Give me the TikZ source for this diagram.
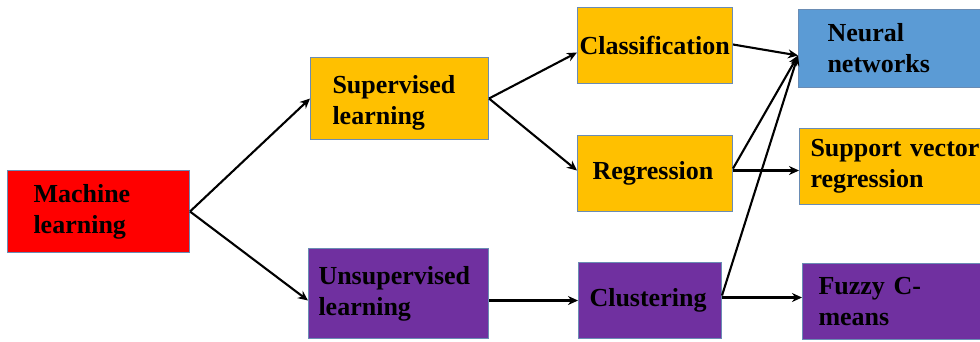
\documentclass[tikz,border=0pt]{standalone}
\usepackage{fontspec}
\setmainfont{Liberation Serif}
\usetikzlibrary{arrows.meta}
\definecolor{MLred}{HTML}{FF0000}
\definecolor{Sup}{HTML}{FFC000}
\definecolor{Uns}{HTML}{7030A0}
\definecolor{NNblue}{HTML}{5B9BD5}
\definecolor{Edge}{HTML}{6A8CB4}
\hyphenpenalty=10000
\begin{document}
\begin{tikzpicture}[x=1pt,y=-1pt,
  box/.style={draw=Edge,line width=1pt,anchor=north west,align=left,inner ysep=0pt,
    font=\fontsize{26}{31}\selectfont\bfseries},
  arr/.style={-{Stealth[length=10pt,width=9pt]},line width=2.1pt}]
  \useasboundingbox (0,0) rectangle (980,341);
  \node[box,fill=MLred,text width=130pt,inner xsep=26pt,minimum height=82pt] (ml) at (7,170) {Machine\\learning};
  \node[box,fill=Sup,text width=134pt,inner xsep=22pt,minimum height=82pt,text height=26pt] (sup) at (310,57) {Supervised\\learning};
  \node[box,fill=Uns,text width=160pt,inner xsep=10pt,minimum height=90pt] (uns) at (308,248) {Unsupervised\\learning};
  \node[box,fill=Sup,text width=151pt,inner xsep=2pt,minimum height=76pt] (cls) at (577,7) {Classification};
  \node[box,fill=Sup,text width=125pt,inner xsep=15pt,minimum height=76pt] (reg) at (577,135) {Regression};
  \node[box,fill=Uns,text width=121pt,inner xsep=11pt,minimum height=76pt] (clu) at (578,262) {Clustering};
  \node[box,fill=NNblue,text width=142pt,inner xsep=29pt,minimum height=78pt] (nn) at (798,9) {Neural\\networks};
  \node[box,fill=Sup,text width=178pt,inner xsep=11pt,minimum height=76pt] (svr) at (799,128) {Support vector\\regression};
  \node[box,fill=Uns,text width=168pt,inner xsep=16pt,minimum height=76pt] (fcm) at (802,263) {Fuzzy C-\\means};
  \coordinate (nnin) at ([yshift=-7pt]nn.west);
  \draw[arr] (ml.east) -- (sup.west);
  \draw[arr] (ml.east) -- ([yshift=-7pt]uns.west);
  \draw[arr] (sup.east) -- ([yshift=-7pt]cls.west);
  \draw[arr] (sup.east) -- ([yshift=3pt]reg.west);
  \draw[arr] ([yshift=1pt]cls.east) -- (nnin);
  \draw[arr] ([yshift=5pt]reg.east) -- (nnin);
  \draw[arr] ([yshift=3pt]reg.east) -- ([yshift=-4pt]svr.west);
  \draw[arr] ([yshift=5pt]clu.east) -- (nnin);
  \draw[arr] ([yshift=3pt]clu.east) -- ([yshift=4pt]fcm.west);
  \draw[arr] ([yshift=-7pt]uns.east) -- (clu.west);
\end{tikzpicture}
\end{document}
